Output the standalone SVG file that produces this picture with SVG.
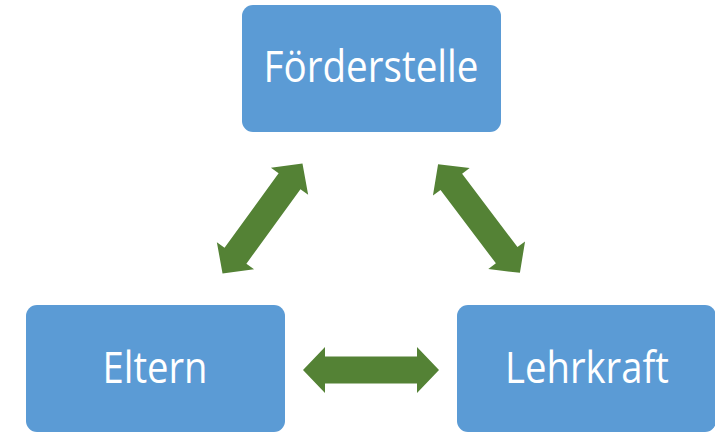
<svg xmlns="http://www.w3.org/2000/svg" width="715" height="432" viewBox="0 0 715 432">
<style>
.box{fill:#5B9BD5;}
.lbl{fill:#FFFFFF;font-family:"Open Sans","Liberation Sans",sans-serif;font-size:43px;text-anchor:middle;}
.arr{fill:#548235;}
</style>
<defs>
<path id="dbl" d="M-68,0 L-46,-23 L-46,-13.5 L46,-13.5 L46,-23 L68,0 L46,23 L46,13.5 L-46,13.5 L-46,23 Z"/>
</defs>
<rect width="715" height="432" fill="#FFFFFF"/>
<g id="connectors">
<use href="#dbl" class="arr" transform="translate(262.5,218.5) rotate(-54)"/>
<use href="#dbl" class="arr" transform="translate(479,218.5) rotate(53)"/>
<use href="#dbl" class="arr" transform="translate(371,370)"/>
</g>
<g id="foerderstelle">
<rect class="box" x="242" y="5" width="259" height="127" rx="11"/>
<text class="lbl" x="371" y="82" textLength="215" lengthAdjust="spacingAndGlyphs">Förderstelle</text>
</g>
<g id="eltern">
<rect class="box" x="26" y="305" width="259" height="127" rx="11"/>
<text class="lbl" x="155" y="383" textLength="105" lengthAdjust="spacingAndGlyphs">Eltern</text>
</g>
<g id="lehrkraft">
<rect class="box" x="457" y="305" width="259" height="127" rx="11"/>
<text class="lbl" x="587" y="383" textLength="164" lengthAdjust="spacingAndGlyphs">Lehrkraft</text>
</g>
</svg>
